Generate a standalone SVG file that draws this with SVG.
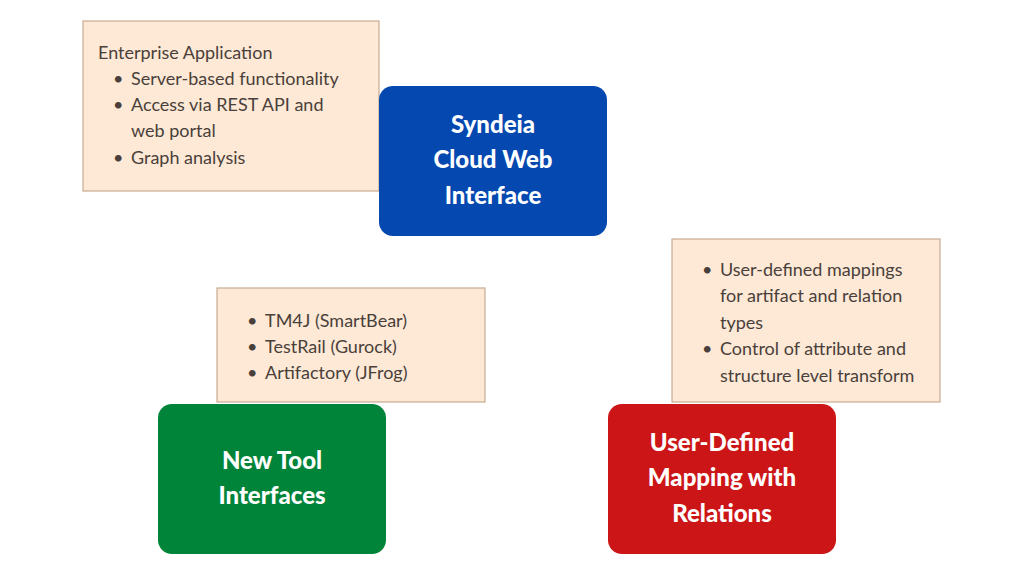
<svg xmlns="http://www.w3.org/2000/svg" width="1023" height="575" viewBox="0 0 1023 575">
<style>
.note{fill:#fde9d6;stroke:#c9ab92;stroke-width:1.2}
.t{font-family:Lato,"Open Sans",sans-serif;font-size:18px;fill:#4a3f3a}
.h{font-family:Lato,"Open Sans",sans-serif;font-size:24px;font-weight:900;fill:#fff;text-anchor:middle}
</style>
<rect width="1023" height="575" fill="#fff"/>
<g id="note1">
<rect class="note" x="83" y="21" width="296" height="170"/>
<text class="t" x="98" y="59">Enterprise Application</text>
<text class="t"><tspan x="113" y="85">•</tspan><tspan x="131" y="85">Server-based functionality</tspan><tspan x="113" y="111">•</tspan><tspan x="131" y="111">Access via REST API and</tspan><tspan x="131" y="137">web portal</tspan><tspan x="113" y="164">•</tspan><tspan x="131" y="164">Graph analysis</tspan></text>
</g>
<g id="syndeia">
<rect x="379" y="86" width="228" height="150" rx="14" fill="#0548b0"/>
<text class="h"><tspan x="493" y="133">Syndeia</tspan><tspan x="493" y="168">Cloud Web</tspan><tspan x="493" y="204">Interface</tspan></text>
</g>
<g id="note2">
<rect class="note" x="217" y="288" width="268" height="114"/>
<text class="t"><tspan x="247" y="327">•</tspan><tspan x="265" y="327">TM4J (SmartBear)</tspan><tspan x="247" y="353">•</tspan><tspan x="265" y="353">TestRail (Gurock)</tspan><tspan x="247" y="379">•</tspan><tspan x="265" y="379">Artifactory (JFrog)</tspan></text>
</g>
<g id="newtool">
<rect x="158" y="404" width="228" height="150" rx="14" fill="#00843a"/>
<text class="h"><tspan x="272" y="469">New Tool</tspan><tspan x="272" y="504">Interfaces</tspan></text>
</g>
<g id="note3">
<rect class="note" x="672" y="239" width="268" height="163"/>
<text class="t"><tspan x="702" y="276">•</tspan><tspan x="720" y="276">User-defined mappings</tspan><tspan x="720" y="302">for artifact and relation</tspan><tspan x="720" y="329">types</tspan><tspan x="702" y="355">•</tspan><tspan x="720" y="355">Control of attribute and</tspan><tspan x="720" y="382">structure level transform</tspan></text>
</g>
<g id="mapping">
<rect x="608" y="404" width="228" height="150" rx="14" fill="#cc1517"/>
<text class="h"><tspan x="722" y="451">User-Defined</tspan><tspan x="722" y="486">Mapping with</tspan><tspan x="722" y="522">Relations</tspan></text>
</g>
<g id="connectors"/>
</svg>
